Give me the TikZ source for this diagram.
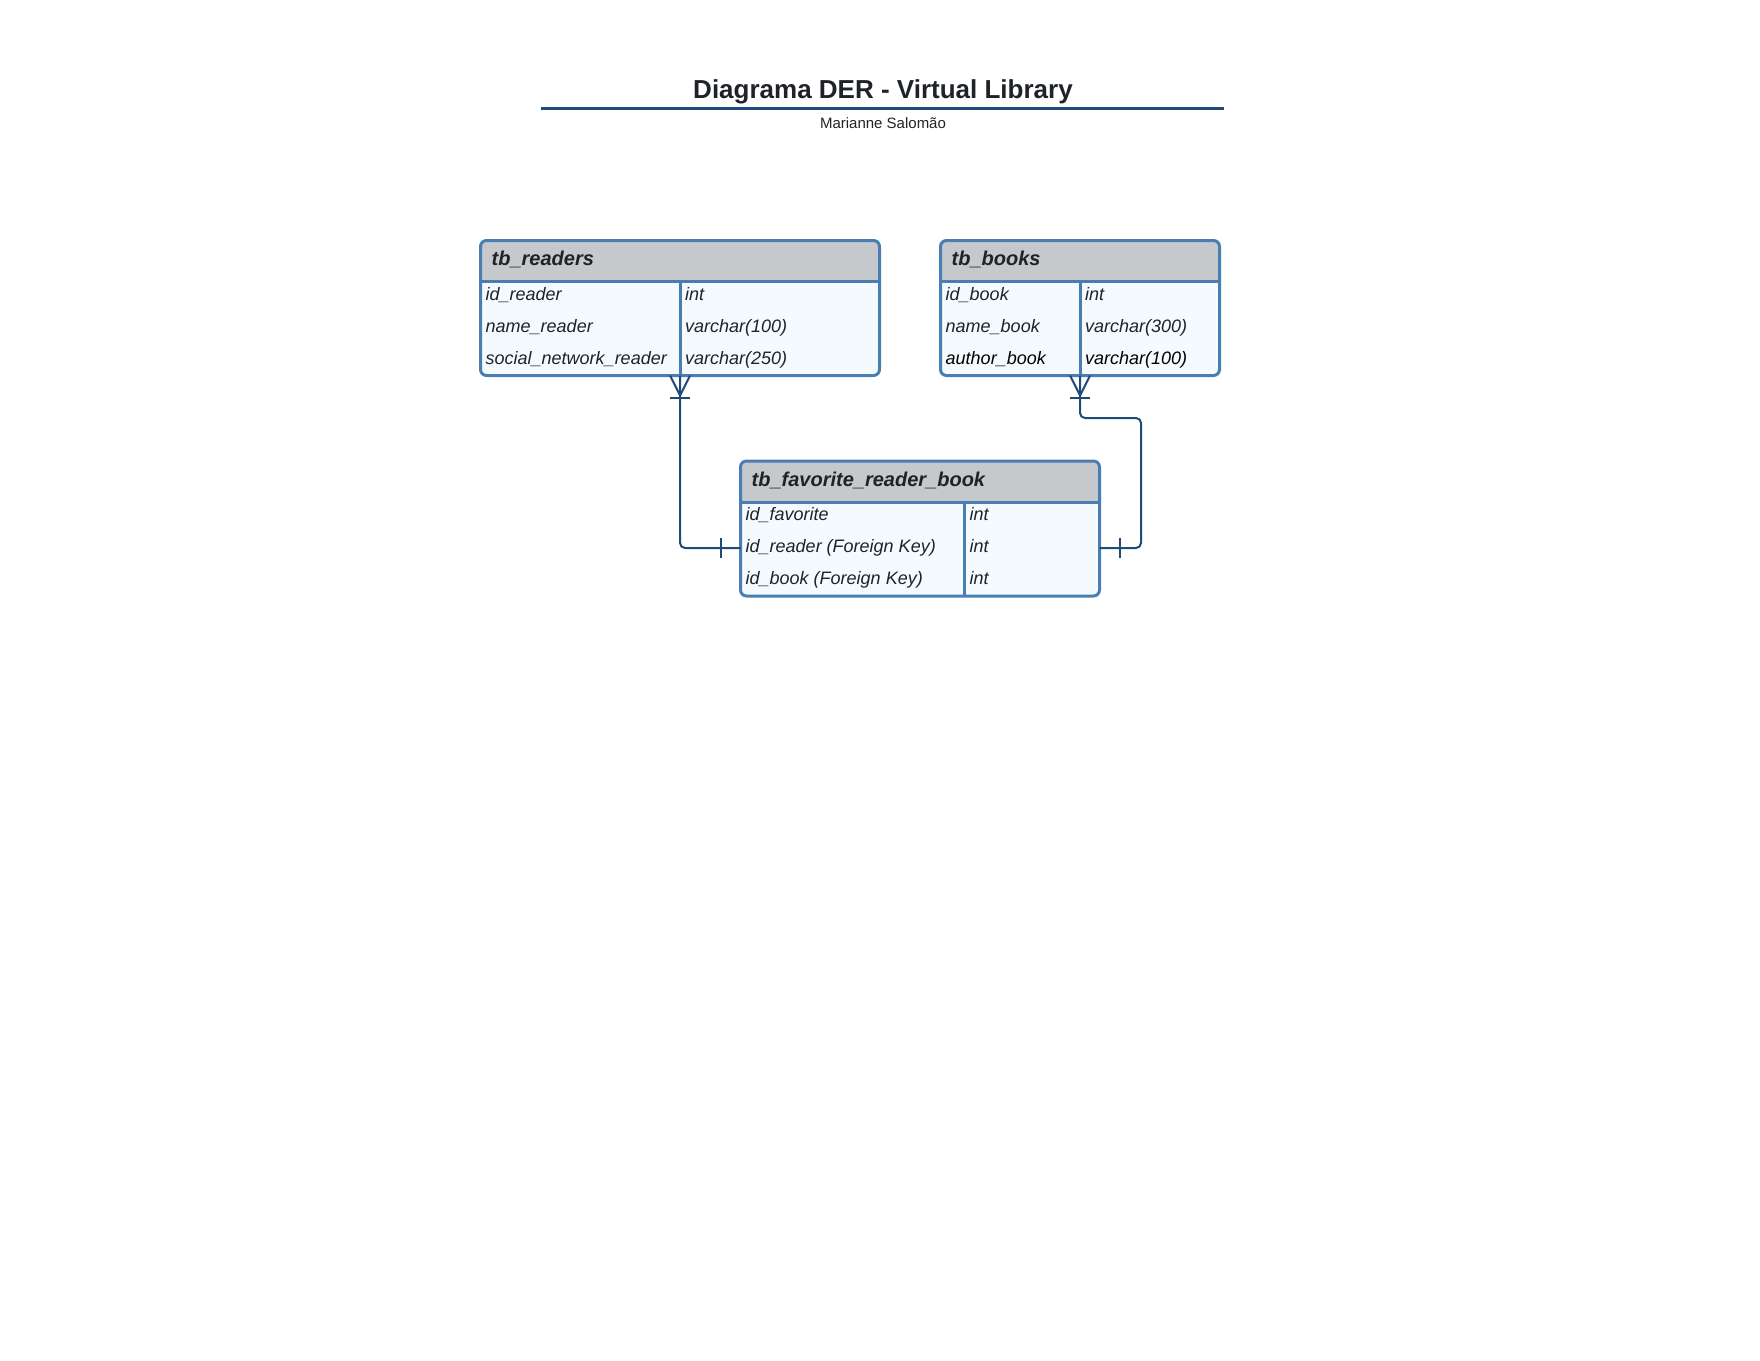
\documentclass[tikz,border=0pt]{standalone}
\usepackage{fontspec}
\setmainfont{Liberation Sans}
\usetikzlibrary{calc}
\definecolor{txt}{HTML}{1F2328}
\definecolor{headgray}{HTML}{C5C9CC}
\definecolor{bodyfill}{HTML}{F5FAFE}
\definecolor{tborder}{HTML}{4A7EB3}
\definecolor{conn}{HTML}{1F4B78}
\newcommand{\erdtable}[6]{%
  \path[fill=bodyfill, rounded corners=6pt] (#2,#3) rectangle ++(#4,135);
  \begin{scope}
    \clip[rounded corners=6pt] (#2,#3) rectangle ++(#4,135);
    \fill[headgray] (#2,#3) rectangle ++(#4,41);
  \end{scope}
  \draw[tborder, line width=3pt] (#2,#3+41) -- ++(#4,0);
  \draw[tborder, line width=3pt] (#2+#5,#3+41) -- (#2+#5,#3+135);
  \node[tablebox, minimum width=#4pt, minimum height=135pt] (#1) at (#2,#3) {};
  \node[headtext] (#1-title) at (#2+11,#3+25) {#6};
}
\begin{document}
\begin{tikzpicture}[x=1pt,y=-1pt,
  tablebox/.style={draw=tborder, line width=3pt, rounded corners=6pt, inner sep=0pt, outer sep=0pt, anchor=north west},
  headtext/.style={font=\fontsize{20}{24}\selectfont\bfseries\itshape, text=txt, anchor=base west, inner sep=0pt},
  celltext/.style={font=\fontsize{18}{22}\selectfont\itshape, text=txt, anchor=base west, inner sep=0pt},
  connector/.style={draw=conn, line width=2pt, rounded corners=5pt},
  tickmark/.style={draw=conn, line width=2pt}]
\useasboundingbox (0,0) rectangle (1760,1360);

% title
\node[font=\fontsize{26}{30}\selectfont\bfseries, text=txt, anchor=base, inner sep=0pt] (title) at (883,98) {Diagrama DER - Virtual Library};
\draw[conn, line width=3pt] (541,108) -- (1224,108);
\node[font=\fontsize{15}{18}\selectfont, text=txt, anchor=base, inner sep=0pt] (subtitle) at (883,128) {Marianne Salomão};

% tables
\erdtable{readers}{480.5}{240.5}{399}{199.5}{tb\_readers}
\node[celltext] (r1a) at (485.5,300.5) {id\_reader};
\node[celltext] (r2a) at (485.5,332.5) {name\_reader};
\node[celltext] (r3a) at (485.5,364.5) {social\_network\_reader};
\node[celltext] (r1b) at (685,300.5) {int};
\node[celltext] (r2b) at (685,332.5) {varchar(100)};
\node[celltext] (r3b) at (685,364.5) {varchar(250)};

\erdtable{books}{940.5}{240.5}{279}{139.5}{tb\_books}
\node[celltext] (b1a) at (945.5,300.5) {id\_book};
\node[celltext] (b2a) at (945.5,332.5) {name\_book};
\node[celltext, text=black] (b3a) at (945.5,364.5) {author\_book};
\node[celltext] (b1b) at (1085,300.5) {int};
\node[celltext] (b2b) at (1085,332.5) {varchar(300)};
\node[celltext, text=black] (b3b) at (1085,364.5) {varchar(100)};

\erdtable{fav}{740.5}{461}{359}{224}{tb\_favorite\_reader\_book}
\node[celltext] (f1a) at (745.5,520.5) {id\_favorite};
\node[celltext] (f2a) at (745.5,552.5) {id\_reader (Foreign Key)};
\node[celltext] (f3a) at (745.5,584.5) {id\_book (Foreign Key)};
\node[celltext] (f1b) at (969.5,520.5) {int};
\node[celltext] (f2b) at (969.5,552.5) {int};
\node[celltext] (f3b) at (969.5,584.5) {int};

% connectors
\coordinate (favL) at ($(fav.north west)+(0,87)$);
\coordinate (favR) at ($(fav.north east)+(0,87)$);
\coordinate (bend) at (1141,418);

\draw[connector] (readers.south) -- (readers.south |- favL) -- (favL);
\draw[connector] (favR) -- (bend |- favR) -- (bend) -- (books.south |- bend) -- (books.south);

% crow's feet (many)
\draw[tickmark] ($(readers.south)+(-10,0)$) -- ($(readers.south)+(0,20)$) -- ($(readers.south)+(10,0)$);
\draw[tickmark] ($(readers.south)+(-10,22)$) -- ++(20,0);
\draw[tickmark] ($(books.south)+(-10,0)$) -- ($(books.south)+(0,20)$) -- ($(books.south)+(10,0)$);
\draw[tickmark] ($(books.south)+(-10,22)$) -- ++(20,0);

% one marks
\draw[tickmark] ($(favL)+(-20,-10)$) -- ++(0,20);
\draw[tickmark] ($(favR)+(20,-10)$) -- ++(0,20);
\end{tikzpicture}
\end{document}
